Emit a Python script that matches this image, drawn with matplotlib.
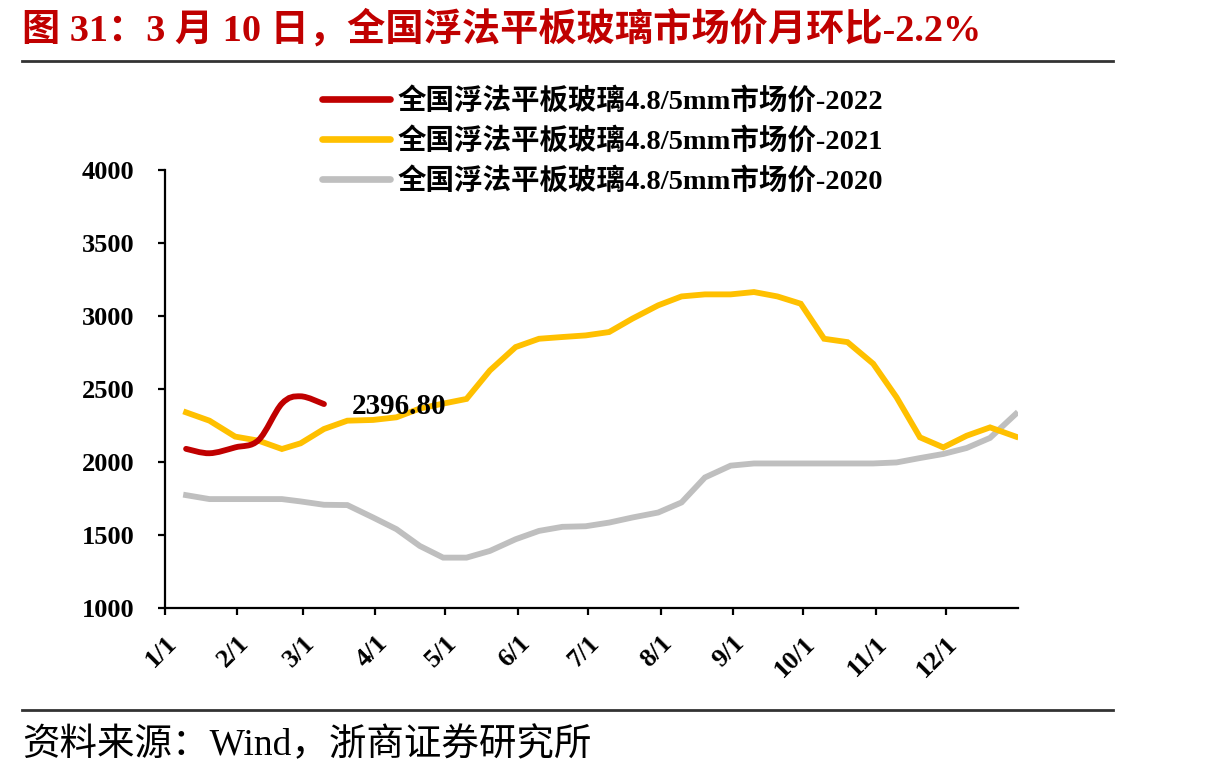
import numpy as np
import matplotlib
matplotlib.use("Agg")
from matplotlib import pyplot as plt
from matplotlib.path import Path
from matplotlib.patches import PathPatch
from matplotlib.lines import Line2D

plt.rcParams['font.family'] = ['Liberation Serif', 'Noto Sans CJK SC']

# price samples: 10th, 20th and last day of every month
month_days = [31, 28, 31, 30, 31, 30, 31, 31, 30, 31, 30, 31]
month_ticks = ['1/1', '2/1', '3/1', '4/1', '5/1', '6/1', '7/1', '8/1', '9/1', '10/1', '11/1', '12/1']

price_2020 = [1773, 1746, 1746, 1746, 1746, 1730, 1707, 1705, 1620, 1540, 1425, 1345,
              1345, 1391, 1471, 1528, 1556, 1560, 1585, 1620, 1654, 1723, 1894, 1975,
              1990, 1990, 1990, 1990, 1990, 1990, 1997, 2027, 2055, 2096, 2165, 2329]
price_2021 = [2340, 2283, 2174, 2146, 2089, 2128, 2226, 2283, 2288, 2306, 2366, 2400,
              2432, 2627, 2787, 2844, 2856, 2867, 2890, 2982, 3073, 3134, 3148, 3148,
              3164, 3134, 3084, 2844, 2821, 2673, 2443, 2169, 2100, 2180, 2237, 2174]
price_2022 = [2090, 2060, 2100, 2150, 2400, 2450, 2396.80]

labels = ['全国浮法平板玻璃4.8/5mm市场价-2022',
          '全国浮法平板玻璃4.8/5mm市场价-2021',
          '全国浮法平板玻璃4.8/5mm市场价-2020']
colors = ['#C00000', '#FFC000', '#BFBFBF']

# day-of-year positions
month_start = np.concatenate([[0], np.cumsum(month_days)[:-1]])
sample_x = []
for start, n in zip(month_start, month_days):
    sample_x += [start + 9, start + 19, start + n - 1]
sample_x = np.array(sample_x, dtype=float)


def smooth_path(x, y):
    # catmull-rom style bezier through the points (like Excel smoothed lines)
    pts = np.column_stack([x, y])
    verts = [pts[0]]
    codes = [Path.MOVETO]
    for i in range(len(pts) - 1):
        p0 = pts[max(i - 1, 0)]
        p1 = pts[i]
        p2 = pts[i + 1]
        p3 = pts[min(i + 2, len(pts) - 1)]
        c1 = p1 + (p2 - p0) / 6
        c2 = p2 - (p3 - p1) / 6
        verts += [c1, c2, p2]
        codes += [Path.CURVE4] * 3
    return Path(verts, codes)


fig = plt.figure(figsize=(12.1, 7.79), dpi=100)
ax = fig.add_axes([0.1364, 0.2195, 0.7050, 0.5623])

ax.plot(sample_x, price_2020, color=colors[2], lw=4.2, solid_joinstyle='miter', zorder=2)
ax.plot(sample_x, price_2021, color=colors[1], lw=4.2, solid_joinstyle='miter', zorder=3)
x22 = sample_x[:len(price_2022)]
ax.add_patch(PathPatch(smooth_path(x22, price_2022), facecolor='none',
                       edgecolor=colors[0], lw=4.2, capstyle='round', zorder=4))

ax.annotate('%.2f' % price_2022[-1], (x22[-1], price_2022[-1]), xytext=(20, -2),
            textcoords='offset points', ha='left', va='center',
            fontsize=21, fontweight='bold', zorder=5)

ax.set_xlim(0, 365)
ax.set_ylim(1000, 4000)
ax.set_yticks(np.arange(1000, 4001, 500))
ax.set_xticks(month_start)
ax.set_xticklabels(month_ticks, rotation=45, ha='right', va='top', rotation_mode='anchor')
for s in ['top', 'right']:
    ax.spines[s].set_visible(False)
for s in ['left', 'bottom']:
    ax.spines[s].set_linewidth(1.6)
ax.tick_params(axis='both', direction='out', length=5, width=1.6, labelsize=19)
ax.tick_params(axis='y', pad=17)
ax.tick_params(axis='x', pad=12)
for t in ax.get_xticklabels() + ax.get_yticklabels():
    t.set_fontweight('bold')

handles = [Line2D([], [], color=c, lw=4.8, solid_capstyle='round') for c in colors]
fig.legend(handles, labels, loc='upper left', bbox_to_anchor=(0.245, 0.921),
           frameon=False, handlelength=2.4, handletextpad=0.25,
           labelspacing=0.42, prop={'weight': 'bold', 'size': 20.5})

fig.text(0.018, 0.962, '图 31：3 月 10 日，全国浮法平板玻璃市场价月环比-2.2%',
         color='#C00000', fontsize=27.5, fontweight='bold', ha='left', va='center')
fig.add_artist(Line2D([0.018, 0.920], [0.922, 0.922], color='#333333', lw=2))
fig.add_artist(Line2D([0.018, 0.920], [0.088, 0.088], color='#333333', lw=2))
fig.text(0.018, 0.043, '资料来源：Wind，浙商证券研究所', fontsize=27,
         ha='left', va='center')

fig.savefig('out.png', dpi=100)
